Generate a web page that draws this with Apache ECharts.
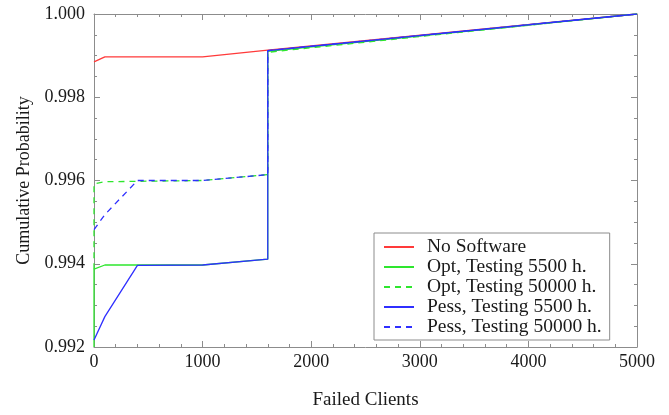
<!DOCTYPE html>
<html>
<head>
<meta charset="utf-8">
<script src="https://cdn.jsdelivr.net/npm/echarts@6/dist/echarts.min.js"></script>
<style>
  html, body { margin: 0; padding: 0; background: #fff; }
  #chart { width: 669px; height: 415px; }
</style>
</head>
<body>
<div id="chart"></div>
<script>
// Cumulative probability of failed clients, per scenario: [failed clients, probability]
const seriesNames = [
  'No Software',
  'Opt, Testing 5500 h.',
  'Opt, Testing 50000 h.',
  'Pess, Testing 5500 h.',
  'Pess, Testing 50000 h.'
];
const noSoftware = [[0, 0.99885], [100, 0.99897], [1000, 0.99897], [1600, 0.99913], [5000, 1.0]];
const optTest5500 = [[0, 0.9920], [0, 0.99387], [100, 0.99397], [1000, 0.99397], [1600, 0.99411], [1600, 0.99910], [5000, 1.0]];
const optTest50000 = [[0, 0.99387], [0, 0.99592], [100, 0.99597], [1000, 0.99600], [1600, 0.99614], [1600, 0.99908], [5000, 1.0]];
const pessTest5500 = [[0, 0.99217], [100, 0.99273], [400, 0.99396], [1000, 0.99397], [1600, 0.99411], [1600, 0.99912], [5000, 1.0]];
const pessTest50000 = [[0, 0.99482], [100, 0.99518], [400, 0.99600], [1000, 0.99600], [1600, 0.99614], [1600, 0.99912], [5000, 1.0]];

const xTicks = { min: 0, max: 5000, interval: 1000 };
const yTicks = { min: 0.992, max: 1.0, interval: 0.002 };

const serif = '"Liberation Serif", "DejaVu Serif", serif';
const frameColor = '#8c8c8c';
const textColor = '#1a1a1a';

function frameAxis(opts) {
  return Object.assign({
    type: 'value',
    axisLine: { show: true, onZero: false, lineStyle: { color: frameColor, width: 1 } },
    axisTick: { show: true, inside: true, length: 6, lineStyle: { color: frameColor } },
    splitLine: { show: false },
    minorSplitLine: { show: false }
  }, opts);
}

const chart = echarts.init(document.getElementById('chart'), null, { renderer: 'canvas' });

const lineDefs = [
  { name: seriesNames[0], data: noSoftware, color: '#ff3a3a', dash: 'solid' },
  { name: seriesNames[1], data: optTest5500, color: '#2ee62e', dash: 'solid' },
  { name: seriesNames[2], data: optTest50000, color: '#2ee62e', dash: [6, 5] },
  { name: seriesNames[3], data: pessTest5500, color: '#2f2fff', dash: 'solid' },
  { name: seriesNames[4], data: pessTest50000, color: '#2f2fff', dash: [6, 5] }
];

chart.setOption({
  animation: false,
  backgroundColor: '#fff',
  textStyle: { fontFamily: serif },
  grid: { left: 94, right: 32, top: 14, bottom: 68, containLabel: false },
  legend: {
    orient: 'vertical',
    left: 374,
    top: 233,
    padding: [4, 8, 3, 9],
    itemGap: 0,
    itemWidth: 30,
    itemHeight: 14,
    itemStyle: { opacity: 0 },
    borderColor: '#8c8c8c',
    borderWidth: 1,
    backgroundColor: '#fff',
    textStyle: { fontFamily: serif, fontSize: 19.5, lineHeight: 18, color: textColor, padding: [0, 0, 0, 8] },
    data: seriesNames.map(n => ({ name: n }))
  },
  xAxis: [
    frameAxis({
      min: xTicks.min, max: xTicks.max, interval: xTicks.interval,
      minorTick: { show: true, splitNumber: 5, length: 3, lineStyle: { color: frameColor } },
      name: 'Failed Clients',
      nameLocation: 'middle',
      nameGap: 44,
      nameTextStyle: { fontFamily: serif, fontSize: 19, color: textColor },
      axisLabel: { fontFamily: serif, fontSize: 18, color: textColor, margin: 6, formatter: v => String(v) }
    }),
    frameAxis({
      position: 'top',
      min: xTicks.min, max: xTicks.max, interval: xTicks.interval,
      minorTick: { show: true, splitNumber: 5, length: 3, lineStyle: { color: frameColor } },
      axisLabel: { show: false }
    })
  ],
  yAxis: [
    frameAxis({
      min: yTicks.min, max: yTicks.max, interval: yTicks.interval,
      minorTick: { show: true, splitNumber: 4, length: 3, lineStyle: { color: frameColor } },
      name: 'Cumulative Probability',
      nameLocation: 'middle',
      nameGap: 60,
      nameTextStyle: { fontFamily: serif, fontSize: 18, color: textColor },
      axisLabel: {
        fontFamily: serif, fontSize: 18, color: textColor, margin: 9,
        formatter: v => v.toFixed(3)
      }
    }),
    frameAxis({
      position: 'right',
      min: yTicks.min, max: yTicks.max, interval: yTicks.interval,
      minorTick: { show: true, splitNumber: 4, length: 3, lineStyle: { color: frameColor } },
      axisLabel: { show: false }
    })
  ],
  series: lineDefs.map(d => ({
    name: d.name,
    type: 'line',
    data: d.data,
    showSymbol: false,
    symbol: 'none',
    color: d.color,
    lineStyle: { color: d.color, width: 1.3, type: d.dash },
    emphasis: { disabled: true }
  }))
});
</script>
</body>
</html>
